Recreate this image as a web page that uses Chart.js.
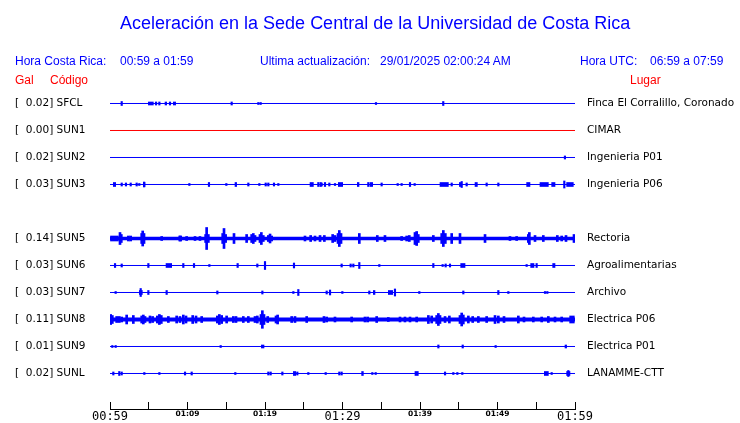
<!DOCTYPE html>
<html lang="es">
  <head>
    <meta charset="UTF-8" />
    <title>Aceleración Sede Central UCR</title>
    <script src="https://cdn.jsdelivr.net/npm/chart.js"></script>
    <style>
      * {
        margin: 0;
        padding: 0;
        box-sizing: border-box;
      }

      body {
        background: #fff;
        font-family: "Liberation Sans", Arial, sans-serif;
      }

      .wrap {
        position: relative;
        width: 740px;
        height: 423px;
      }

      .wrap canvas {
        position: absolute;
        left: 0;
        top: 0;
      }

      h1 {
        position: absolute;
        left: 120px;
        top: 13px;
        font-size: 18px;
        line-height: 20px;
        font-weight: normal;
        color: #0000ff;
        white-space: nowrap;
      }

      .txt {
        position: absolute;
        font-size: 12px;
        line-height: 14px;
        color: #0000ff;
        white-space: nowrap;
      }

      .red {
        color: #ff0000;
      }
    </style>
  </head>
  <body>
    <div class="wrap">
      <canvas id="sismo" width="740" height="423"></canvas>
      <h1>Aceleración en la Sede Central de la Universidad de Costa Rica</h1>
      <span class="txt" style="left: 15px; top: 54px">Hora Costa Rica:</span>
      <span class="txt" style="left: 120px; top: 54px">00:59 a 01:59</span>
      <span class="txt" style="left: 260px; top: 54px">Ultima actualización:</span>
      <span class="txt" style="left: 380px; top: 54px">29/01/2025 02:00:24 AM</span>
      <span class="txt" style="left: 580px; top: 54px">Hora UTC:</span>
      <span class="txt" style="left: 650px; top: 54px">06:59 a 07:59</span>
      <span class="txt red" style="left: 15px; top: 73px">Gal</span>
      <span class="txt red" style="left: 50px; top: 73px">Código</span>
      <span class="txt red" style="left: 630px; top: 73px">Lugar</span>
    </div>

    <script>
      // estaciones (la fila vacía es SUN4, sin datos)
      const codes = ["SFCL", "SUN1", "SUN2", "SUN3", "", "SUN5", "SUN6", "SUN7", "SUN8", "SUN9", "SUNL"];
      const galMax = [0.02, 0.0, 0.02, 0.03, null, 0.14, 0.03, 0.03, 0.11, 0.01, 0.02];
      const places = [
        "Finca El Corralillo, Coronado",
        "CIMAR",
        "Ingenieria P01",
        "Ingenieria P06",
        "",
        "Rectoria",
        "Agroalimentarias",
        "Archivo",
        "Electrica P06",
        "Electrica P01",
        "LANAMME-CTT",
      ];

      // eje de tiempo: minutos desde 00:59, marcas cada 5 min
      const xTickLabels = ["00:59", "", "01:09", "", "01:19", "", "01:29", "", "01:39", "", "01:49", "", "01:59"];
      const bigTicks = ["00:59", "01:29", "01:59"];

      // picos [minuto, Gal]
      const evSFCL = [[1.51, 0.025], [5.94, 0.019], [6.37, 0.019], [7.74, 0.019], [15.7, 0.019], [19.14, 0.0125], [19.44, 0.0125], [34.32, 0.0125], [43.0, 0.025]];
      const evSUN1 = [];
      const evSUN2 = [[58.7, 0.019]];
      const evSUN3 = [[1.51, 0.019], [2.06, 0.019], [2.67, 0.019], [3.44, 0.019], [3.78, 0.0125], [4.4, 0.031], [10.24, 0.0125], [12.77, 0.025], [15.01, 0.0125], [17.85, 0.019], [19.27, 0.0125], [20.09, 0.019], [20.43, 0.019], [21.16, 0.019], [21.72, 0.0125], [26.88, 0.025], [27.18, 0.025], [27.31, 0.019], [27.74, 0.025], [28.3, 0.019], [29.03, 0.0125], [33.33, 0.025], [35.05, 0.019], [37.12, 0.0125], [37.63, 0.0125], [38.71, 0.025], [39.31, 0.0125], [44.09, 0.019], [45.38, 0.0375], [46.02, 0.019], [48.6, 0.019], [50.11, 0.019], [58.62, 0.044]];
      const evSUN5 = [[1.29, 0.075], [1.46, 0.05], [2.37, 0.031], [2.67, 0.031], [4.09, 0.0625], [4.22, 0.094], [4.39, 0.0625], [6.67, 0.025], [9.03, 0.031], [9.89, 0.025], [10.97, 0.025], [11.61, 0.025], [12.34, 0.05], [12.47, 0.1375], [12.69, 0.05], [14.54, 0.0625], [14.71, 0.125], [14.92, 0.05], [16.0, 0.0625], [17.63, 0.05], [18.28, 0.05], [18.49, 0.0625], [18.71, 0.0375], [19.35, 0.05], [19.53, 0.075], [19.78, 0.0375], [20.43, 0.0375], [20.65, 0.056], [20.86, 0.031], [25.16, 0.031], [25.89, 0.0375], [26.45, 0.031], [27.1, 0.0375], [27.66, 0.0375], [28.73, 0.05], [29.03, 0.0375], [29.42, 0.0625], [29.59, 0.1], [29.81, 0.0625], [32.17, 0.0625], [34.49, 0.0375], [35.48, 0.0375], [37.63, 0.025], [38.28, 0.031], [38.62, 0.0375], [39.35, 0.075], [39.57, 0.0875], [39.78, 0.05], [41.72, 0.0375], [42.8, 0.0625], [43.01, 0.1], [43.27, 0.0625], [44.09, 0.0625], [45.16, 0.0625], [48.39, 0.05], [51.61, 0.025], [52.47, 0.025], [53.98, 0.05], [54.11, 0.075], [54.84, 0.0375], [55.91, 0.0375], [57.72, 0.0375], [58.28, 0.031], [58.84, 0.0375], [59.87, 0.05]];
      const evSUN6 = [[0.65, 0.025], [1.51, 0.019], [4.95, 0.025], [9.46, 0.025], [10.84, 0.025], [12.82, 0.0125], [16.47, 0.025], [19.01, 0.019], [20.0, 0.05], [23.74, 0.031], [29.89, 0.019], [31.05, 0.019], [31.4, 0.019], [32.17, 0.0375], [34.75, 0.0125], [41.72, 0.025], [42.92, 0.0125], [43.31, 0.019], [43.87, 0.019], [53.76, 0.0125], [55.05, 0.025]];
      const evSUN7 = [[0.73, 0.0125], [3.96, 0.05], [4.95, 0.025], [7.31, 0.025], [13.85, 0.019], [19.66, 0.019], [23.66, 0.0125], [24.3, 0.0375], [27.96, 0.019], [28.39, 0.031], [29.98, 0.0125], [33.46, 0.019], [36.77, 0.044], [39.91, 0.0125], [45.59, 0.019], [50.11, 0.025], [51.4, 0.0125], [56.13, 0.0125], [56.43, 0.0125]];
      const evSUN8 = [[0.09, 0.0625], [0.3, 0.05], [0.86, 0.0375], [1.2, 0.0375], [1.51, 0.031], [2.15, 0.056], [3.01, 0.05], [4.09, 0.044], [4.3, 0.056], [4.52, 0.0375], [5.16, 0.044], [5.5, 0.0375], [6.11, 0.044], [6.37, 0.0625], [6.62, 0.05], [7.53, 0.0375], [8.6, 0.044], [9.03, 0.0375], [9.46, 0.056], [9.81, 0.044], [10.67, 0.05], [11.1, 0.044], [11.83, 0.0375], [13.85, 0.044], [14.11, 0.0625], [14.41, 0.05], [15.05, 0.044], [15.91, 0.0375], [16.26, 0.0375], [17.2, 0.0375], [17.85, 0.0375], [18.71, 0.0375], [19.01, 0.044], [19.48, 0.0625], [19.66, 0.11], [19.87, 0.0625], [20.35, 0.0375], [21.42, 0.044], [21.63, 0.056], [23.44, 0.0375], [23.87, 0.0375], [25.38, 0.0375], [27.61, 0.0375], [27.96, 0.031], [29.03, 0.031], [31.18, 0.031], [32.9, 0.031], [33.25, 0.031], [34.41, 0.0375], [35.91, 0.025], [37.42, 0.031], [38.06, 0.031], [38.71, 0.031], [39.57, 0.031], [41.08, 0.05], [41.51, 0.044], [42.15, 0.05], [42.37, 0.075], [42.58, 0.05], [43.23, 0.0375], [43.79, 0.044], [45.16, 0.05], [45.38, 0.081], [45.59, 0.056], [46.24, 0.044], [46.8, 0.0375], [47.53, 0.0375], [48.6, 0.0375], [49.68, 0.05], [50.11, 0.044], [50.84, 0.0375], [52.69, 0.044], [53.42, 0.031], [54.62, 0.031], [55.7, 0.031], [56.56, 0.0375], [57.42, 0.031], [58.28, 0.031], [59.44, 0.044], [59.78, 0.044]];
      const evSUN9 = [[0.3, 0.0125], [0.73, 0.0125], [14.28, 0.0125], [42.37, 0.019], [45.51, 0.019], [49.76, 0.0125]];
      const evSUNL = [[0.43, 0.019], [1.2, 0.025], [1.51, 0.019], [4.43, 0.0125], [6.37, 0.0125], [9.68, 0.019], [10.54, 0.019], [16.17, 0.0125], [20.43, 0.019], [20.73, 0.019], [22.24, 0.019], [24.17, 0.019], [25.59, 0.0125], [27.83, 0.0125], [29.59, 0.019], [29.89, 0.019], [33.85, 0.0125], [34.28, 0.0125], [43.23, 0.019], [44.3, 0.0125], [44.82, 0.0125], [45.46, 0.0125], [56.99, 0.0125], [59.14, 0.0375]];

      // tramos con vibración continua [minuto inicio, minuto fin]
      const blkSFCL = [[4.95, 5.59], [7.1, 7.31], [8.17, 8.47]];
      const blkSUN3 = [[0.43, 0.73], [4.3, 4.52], [16.13, 16.34], [25.81, 26.24], [29.46, 30.02], [31.91, 32.13], [33.55, 33.89], [42.58, 43.66], [45.08, 45.38], [47.1, 47.4], [53.76, 54.19], [55.48, 56.56], [56.99, 57.42], [58.92, 59.78]];
      const blkSUN5 = [[0.0, 1.08], [8.9, 9.25]];
      const blkSUN6 = [[7.23, 7.96], [45.25, 45.81], [54.28, 54.71], [57.12, 57.42]];
      const blkSUN7 = [[3.78, 4.17], [33.98, 34.19], [35.91, 36.47]];
      const blkSUN9 = [[19.53, 19.87], [58.71, 58.92]];
      const blkSUNL = [[23.66, 23.96], [32.47, 32.69], [39.35, 39.78], [56.04, 56.56], [58.92, 59.35]];

      const events = [evSFCL, evSUN1, evSUN2, evSUN3, [], evSUN5, evSUN6, evSUN7, evSUN8, evSUN9, evSUNL];
      const blocks = [blkSFCL, [], [], blkSUN3, [], blkSUN5, blkSUN6, blkSUN7, [], blkSUN9, blkSUNL];

      // estilo por traza
      const GAL_PER_ROW = 0.3375; // 80 px por Gal, 27 px por fila
      const baseWidth = [1, 1, 1, 1, 0, 3.5, 1, 1, 4, 1, 1];
      const blockPx = [3, 0, 0, 4, 0, 5, 4, 4, 0, 3, 4];

      const datasets = [];
      codes.forEach((code, r) => {
        if (!code) return;
        const color = code === "SUN1" ? "#ff0000" : "#0000ff";
        datasets.push({
          type: "line",
          data: [
            { x: 0, y: r },
            { x: 60, y: r },
          ],
          borderColor: color,
          borderWidth: baseWidth[r],
          pointRadius: 0,
        });
        if (blocks[r].length) {
          datasets.push({
            type: "bar",
            indexAxis: "y",
            grouped: false,
            barThickness: blockPx[r],
            backgroundColor: color,
            data: blocks[r].map(([a, b]) => ({ x: [a, b], y: r })),
          });
        }
        if (events[r].length) {
          datasets.push({
            type: "bar",
            grouped: false,
            barThickness: r === 5 || r === 8 ? 2 : 1.5,
            backgroundColor: color,
            data: events[r].map(([t, g]) => ({ x: t, y: [r - g / GAL_PER_ROW, r + g / GAL_PER_ROW] })),
          });
        }
      });

      const rowTicks = (s) => {
        s.ticks = codes.map((c, i) => ({ value: i }));
      };

      new Chart(document.getElementById("sismo"), {
        type: "bar",
        data: { datasets },
        options: {
          responsive: false,
          animation: false,
          layout: { padding: { left: 15, top: 90, right: 0, bottom: 0 } },
          plugins: { legend: { display: false }, tooltip: { enabled: false } },
          scales: {
            x: {
              type: "linear",
              min: 0,
              max: 60,
              offset: false,
              beginAtZero: false,
              afterBuildTicks: (s) => {
                s.ticks = xTickLabels.map((l, i) => ({ value: i * 5 }));
              },
              afterFit: (s) => {
                s.height = 14;
              },
              grid: {
                offset: false,
                drawOnChartArea: false,
                drawTicks: true,
                tickLength: -7,
                color: "#000",
              },
              border: { display: true, color: "#000", width: 1 },
              ticks: {
                autoSkip: false,
                maxRotation: 0,
                padding: 8,
                color: "#000",
                callback: (v, i) => xTickLabels[i],
                font: (c) =>
                  bigTicks.includes(xTickLabels[c.index])
                    ? { family: "DejaVu Sans Mono", size: 12 }
                    : { family: "DejaVu Sans", size: 7.5, weight: "bold" },
              },
            },
            y: {
              type: "linear",
              position: "left",
              reverse: true,
              min: -0.5,
              max: 11.315,
              offset: false,
              beginAtZero: false,
              afterBuildTicks: rowTicks,
              afterFit: (s) => {
                s.width = 95;
              },
              grid: { display: false, drawTicks: false, offset: false },
              border: { display: false },
              ticks: {
                crossAlign: "far",
                padding: 0,
                color: "#000",
                font: { family: "DejaVu Sans", size: 10.5 },
                callback: (v) => (galMax[v] == null ? "" : "[  " + galMax[v].toFixed(2) + "] " + codes[v]),
              },
            },
            yR: {
              type: "linear",
              position: "right",
              reverse: true,
              min: -0.5,
              max: 11.315,
              offset: false,
              afterBuildTicks: rowTicks,
              afterFit: (s) => {
                s.width = 165;
              },
              grid: {
                display: true,
                drawOnChartArea: false,
                drawTicks: true,
                tickLength: 12,
                offset: false,
                color: "rgba(0,0,0,0)",
              },
              border: { display: false },
              ticks: {
                crossAlign: "near",
                padding: 0,
                color: "#000",
                font: { family: "DejaVu Sans", size: 10.5 },
                callback: (v) => places[v],
              },
            },
          },
        },
      });
    </script>
  </body>
</html>
